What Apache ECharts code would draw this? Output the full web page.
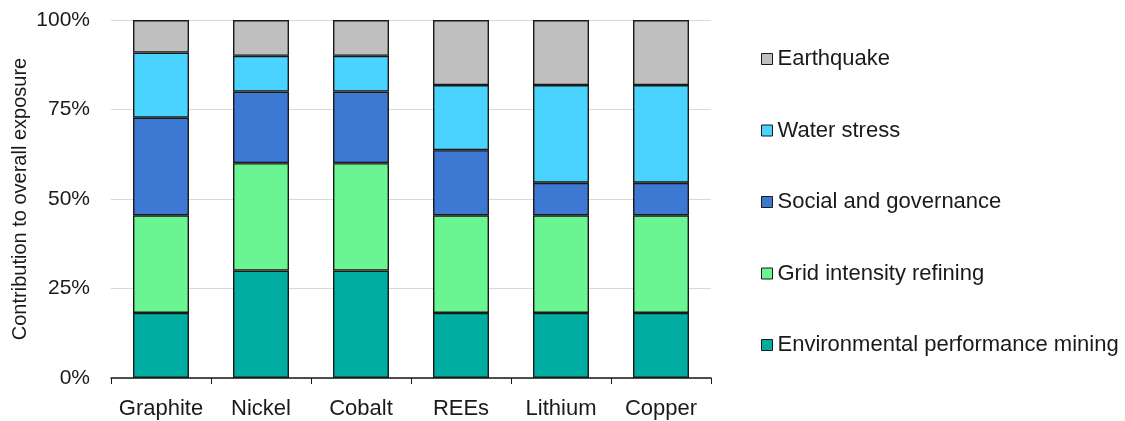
<!DOCTYPE html>
<html>
<head>
<meta charset="utf-8">
<script src="https://cdn.jsdelivr.net/npm/echarts@6/dist/echarts.min.js"></script>
<style>
  html, body { margin: 0; padding: 0; background: #fff; }
  #chart { width: 1125px; height: 421px; }
</style>
</head>
<body>
<div id="chart"></div>
<script>
// Minerals on the x axis
const categories = ['Graphite', 'Nickel', 'Cobalt', 'REEs', 'Lithium', 'Copper'];

// Share of overall exposure (%) by risk driver, stacked bottom to top
const envMining   = [18.18, 30, 30, 18.18, 18.18, 18.18];
const gridRefining = [27.27, 30, 30, 27.27, 27.27, 27.27];
const socialGov   = [27.27, 20, 20, 18.18, 9.09, 9.09];
const waterStress = [18.18, 10, 10, 18.18, 27.27, 27.27];
const earthquake  = [9.09, 10, 10, 18.18, 18.18, 18.18];

const yTicks = [0, 25, 50, 75, 100];

const FONT = 'Liberation Sans, Arial, sans-serif';
const TXT = '#1a1a1a';

const seriesDefs = [
  { name: 'Environmental performance mining', data: envMining, color: '#00ADA0' },
  { name: 'Grid intensity refining', data: gridRefining, color: '#6AF592' },
  { name: 'Social and governance', data: socialGov, color: '#3D78D3' },
  { name: 'Water stress', data: waterStress, color: '#4AD3FF' },
  { name: 'Earthquake', data: earthquake, color: '#BFBFBF' }
];

const chart = echarts.init(document.getElementById('chart'), null, { renderer: 'canvas' });

chart.setOption({
  animation: false,
  textStyle: { fontFamily: FONT },
  grid: { left: 111, right: 414, top: 20, bottom: 43, containLabel: false, outerBoundsMode: 'none' },
  legend: {
    orient: 'vertical',
    left: 756,
    top: 43,
    itemWidth: 11,
    itemHeight: 11,
    itemGap: 49.5,
    icon: 'rect',
    data: seriesDefs.map(s => s.name).reverse(),
    textStyle: { fontFamily: FONT, fontSize: 22, color: TXT, lineHeight: 22 },
    itemStyle: { borderColor: '#1a1a1a', borderWidth: 1 }
  },
  xAxis: {
    type: 'category',
    data: categories,
    axisLine: { lineStyle: { color: '#1a1a1a', width: 1.5 } },
    axisTick: { show: true, length: 6, alignWithLabel: false, lineStyle: { color: '#1a1a1a' } },
    axisLabel: { interval: 0, fontFamily: FONT, fontSize: 22, color: TXT, margin: 20 }
  },
  yAxis: {
    type: 'value',
    min: yTicks[0],
    max: yTicks[yTicks.length - 1],
    interval: 25,
    name: 'Contribution to overall exposure',
    nameLocation: 'middle',
    nameGap: 81,
    nameMoveOverlap: false,
    nameTextStyle: { fontFamily: FONT, fontSize: 20, color: TXT },
    axisLine: { show: false },
    axisTick: { show: false },
    axisLabel: { fontFamily: FONT, fontSize: 21, color: TXT, margin: 21, formatter: '{value}%' },
    splitLine: { lineStyle: { color: '#d9d9d9', width: 1 } }
  },
  series: seriesDefs.map(s => ({
    name: s.name,
    type: 'bar',
    stack: 'total',
    barWidth: '56%',
    data: s.data,
    itemStyle: { color: s.color, borderColor: '#1a1a1a', borderWidth: 1.4 }
  }))
});
</script>
</body>
</html>
